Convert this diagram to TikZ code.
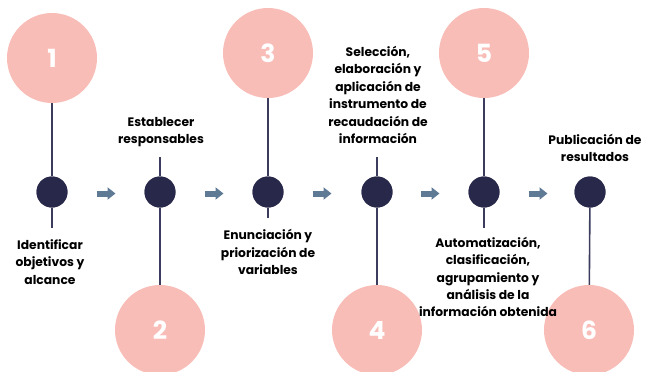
\documentclass[tikz,border=0pt]{standalone}
\usepackage{fontspec}
\setmainfont{Poppins}
\usetikzlibrary{arrows.meta}
\definecolor{discpink}{HTML}{F9BDB8}
\definecolor{dotnavy}{HTML}{28284A}
\definecolor{stemnavy}{HTML}{3C3C5E}
\definecolor{arrowblue}{HTML}{5F7A94}
\tikzset{
  pinkdisc/.style={circle,fill=discpink,minimum size=90pt,inner sep=0pt,text=white,font=\fontsize{25}{25}\selectfont\bfseries},
  navydot/.style={circle,fill=dotnavy,minimum size=31pt,inner sep=0pt},
  stem/.style={draw=stemnavy,line width=1.6pt},
  flowarrow/.style={draw=arrowblue,line width=6pt,-{Triangle[length=8pt,width=12pt]}},
  steplabel/.style={align=center,text=black,font=\fontsize{12.3}{17.4}\selectfont\bfseries}
}
\begin{document}
\begin{tikzpicture}[x=1pt,y=1pt]
\useasboundingbox (0,0) rectangle (648,-372);
\foreach \i/\x in {1/52,2/160,3/268,4/377,5/484,6/590}
  \node[navydot] (d\i) at (\x,-192) {};
\foreach \i/\x in {1/106,2/214,3/322,4/430,5/538}{
  \coordinate (al\i) at (\x-9.5,-193.5);
  \coordinate (ar\i) at (\x+9.5,-193.5);
  \draw[flowarrow] (al\i) -- (ar\i);
}
\node[pinkdisc] (c1) at (52,-58) {1};
\node[pinkdisc] (c2) at (160,-330) {2};
\node[pinkdisc] (c3) at (268,-53) {3};
\node[pinkdisc] (c4) at (377,-330) {4};
\node[pinkdisc] (c5) at (484,-53) {5};
\node[pinkdisc] (c6) at (589,-330) {6};
\coordinate (s1) at (52,-228);
\coordinate (s2) at (160,-157);
\coordinate (s3) at (268,-218);
\coordinate (s4) at (377,-157);
\coordinate (s5) at (484,-228);
\draw[stem] (c1) -- (d1) -- (s1);
\draw[stem] (s2) -- (d2) -- (c2);
\draw[stem] (c3) -- (d3) -- (s3);
\draw[stem] (s4) -- (d4) -- (c4);
\draw[stem] (c5) -- (d5) -- (s5);
\draw[stem] (d6) -- (c6);
\foreach \i in {1,...,6}
  \node[navydot] at (d\i) {};
\node[steplabel] (t1) at (50,-262) {Identificar\\objetivos y\\alcance};
\node[steplabel] (t2) at (161,-132) {Establecer\\responsables};
\node[steplabel] (t3) at (268,-252) {Enunciación y\\priorización de\\variables};
\node[steplabel] (t4) at (378,-95) {Selección,\\elaboración y\\aplicación de\\instrumento de\\recaudación de\\información};
\node[steplabel] (t5) at (488,-277) {Automatización,\\clasificación,\\agrupamiento y\\análisis de la\\información obtenida};
\node[steplabel] (t6) at (595,-148) {Publicación de\\resultados};
\end{tikzpicture}
\end{document}
